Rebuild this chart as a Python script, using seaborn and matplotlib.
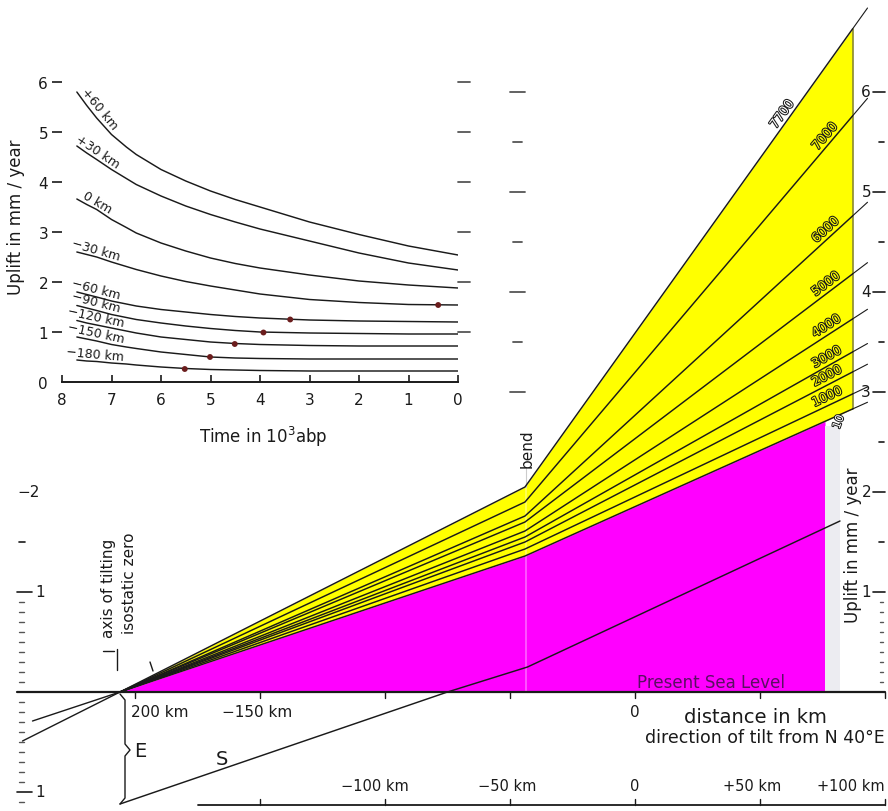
import numpy as np
import pandas as pd
import matplotlib
matplotlib.use("Agg")
import matplotlib.pyplot as plt
import matplotlib.patheffects as pe
import seaborn as sns

sns.set_theme(style="white")
plt.rcParams["font.family"] = ["DejaVu Sans"]

# ---------------- inset: uplift rate through time ----------------
inset_times = [7.7, 7.5, 7.3, 7.0, 6.7, 6.5, 6.0, 5.5, 5.0, 4.5, 4.0, 3.0, 2.0, 1.0, 0.0]
inset_labels = ["+60 km", "+30 km", "0 km", "\u221230 km", "\u221260 km",
                "\u221290 km", "\u2212120 km", "\u2212150 km", "\u2212180 km"]
rate_p60 = [5.80, 5.53, 5.28, 4.95, 4.70, 4.55, 4.25, 4.02, 3.82, 3.65, 3.50, 3.20, 2.95, 2.72, 2.54]
rate_p30 = [4.72, 4.58, 4.45, 4.25, 4.07, 3.95, 3.72, 3.52, 3.35, 3.20, 3.06, 2.82, 2.58, 2.38, 2.24]
rate_0 = [3.66, 3.55, 3.45, 3.25, 3.09, 2.98, 2.78, 2.62, 2.48, 2.37, 2.28, 2.14, 2.02, 1.94, 1.88]
rate_m30 = [2.60, 2.55, 2.50, 2.40, 2.31, 2.25, 2.12, 2.01, 1.92, 1.84, 1.76, 1.65, 1.59, 1.55, 1.54]
rate_m60 = [1.80, 1.75, 1.70, 1.62, 1.56, 1.52, 1.45, 1.40, 1.35, 1.31, 1.28, 1.24, 1.22, 1.21, 1.20]
rate_m90 = [1.53, 1.48, 1.43, 1.35, 1.29, 1.25, 1.18, 1.12, 1.07, 1.03, 1.00, 0.98, 0.97, 0.96, 0.96]
rate_m120 = [1.23, 1.18, 1.14, 1.08, 1.02, 0.98, 0.90, 0.85, 0.80, 0.77, 0.75, 0.73, 0.72, 0.72, 0.72]
rate_m150 = [0.90, 0.86, 0.82, 0.75, 0.70, 0.67, 0.60, 0.55, 0.50, 0.48, 0.47, 0.46, 0.46, 0.46, 0.46]
rate_m180 = [0.44, 0.42, 0.41, 0.38, 0.36, 0.34, 0.30, 0.27, 0.25, 0.24, 0.23, 0.22, 0.22, 0.22, 0.22]
inset_rates = [rate_p60, rate_p30, rate_0, rate_m30, rate_m60,
               rate_m90, rate_m120, rate_m150, rate_m180]
dot_times = [0.40, 3.39, 3.93, 4.51, 5.01, 5.52]
dot_rates = [1.54, 1.25, 0.99, 0.76, 0.50, 0.26]

# ---------------- main profile: tilted shorelines ----------------
pivot_km = -206
bend_km = -44
edge_km = 87
pink_edge_km = 76
leader_km = 93
fan_labels = ["7700", "7000", "6000", "5000", "4000", "3000", "2000", "1000", "10"]
fan_at_bend = [2.05, 1.90, 1.76, 1.70, 1.61, 1.55, 1.50, 1.43, 1.36]
fan_at_edge = [6.63, 5.76, 4.76, 4.18, 3.73, 3.40, 3.20, 2.98, 2.83]
s_line_km = [-206, -75, -43, 82]
s_line_rate = [-1.12, 0.0, 0.25, 1.71]
left_ext_km = [-241, -245]
left_ext_rate = [-0.29, -0.49]
top_ticks_km = [-200, -150, -100, -50, 0, 50, 100]
bottom_ticks_km = [-150, -100, -50, 0, 50, 100]
right_major = [1, 2, 3, 4, 5, 6]
right_minor = [1.5, 2.5, 3.5, 4.5, 5.5]
ruler_vals = [3.0, 3.5, 4.0, 4.5, 5.0, 5.5, 6.0]

YELLOW = "#ffff00"
MAGENTA = "#ff00ff"
INK = "#1a1a1a"

fig = plt.figure(figsize=(8.88, 8.12), dpi=100)
fig.patch.set_facecolor("white")
ax = fig.add_axes([0, 0, 1, 1])

# coloured bands
fan_x = [pivot_km, bend_km, edge_km]
ax.fill_between(fan_x, [0, fan_at_bend[-1], fan_at_edge[-1]],
                [0, fan_at_bend[0], fan_at_edge[0]], color=YELLOW, lw=0, zorder=1)
pink_top_edge = np.interp(pink_edge_km, [bend_km, edge_km], [fan_at_bend[-1], fan_at_edge[-1]])
ax.fill_between([pivot_km, bend_km, pink_edge_km], 0,
                [0, fan_at_bend[-1], pink_top_edge], color=MAGENTA, lw=0, zorder=1)
ax.fill_between([pink_edge_km, 82], 0, pink_top_edge - 0.05, color="#ececf1", lw=0, zorder=1)
ax.plot([edge_km, edge_km], [fan_at_edge[-1], fan_at_edge[0]], color="#8a8a30", lw=1.2, zorder=2)

# faint vertical at the bend
ax.plot([bend_km + 0.5, bend_km + 0.5], [0, fan_at_bend[0]], color="white", alpha=0.35, lw=1.3, zorder=2)
ax.plot([bend_km + 0.5, bend_km + 0.5], [fan_at_bend[0], 2.25], color="#cccccc", lw=0.8, zorder=2)

# shoreline lines
rows = []
for lab, vb, ve in zip(fan_labels, fan_at_bend, fan_at_edge):
    rows += [(lab, pivot_km, 0.0), (lab, bend_km, vb), (lab, edge_km, ve)]
fan_df = pd.DataFrame(rows, columns=["line", "km", "rate"])
sns.lineplot(data=fan_df, x="km", y="rate", units="line", estimator=None,
             color=INK, lw=1.05, ax=ax, sort=False, legend=False, zorder=3)
for vb, ve in zip(fan_at_bend, fan_at_edge):
    slope = (ve - vb) / (edge_km - bend_km)
    ax.plot([edge_km, leader_km], [ve, ve + slope * (leader_km - edge_km)],
            color=INK, lw=0.8, zorder=3)

# extensions beyond the tilting axis
for xk, yr in zip(left_ext_km, left_ext_rate):
    ax.plot([pivot_km, xk], [0, yr], color=INK, lw=1.0, zorder=3)

# line S
sns.lineplot(x=s_line_km, y=s_line_rate, color=INK, lw=1.05, ax=ax, sort=False, zorder=4)

# present sea level and distance scales
ax.plot([-247.2, 100], [0, 0], color=INK, lw=1.6, zorder=4)
for t in top_ticks_km:
    ax.plot([t, t], [0, -0.06], color=INK, lw=1.0, zorder=4)
ax.plot([-175, 100], [-1.13, -1.13], color=INK, lw=1.3, zorder=4)
for t in bottom_ticks_km:
    ax.plot([t, t], [-1.13, -1.07], color=INK, lw=1.0, zorder=4)

# brace E
brace_x = [-206, -204, -204, -202, -204, -204, -206]
brace_y = [-0.02, -0.08, -0.52, -0.58, -0.64, -1.06, -1.12]
ax.plot(brace_x, brace_y, color=INK, lw=1.0, zorder=4)

# axis-of-tilting marker
ax.plot([-212.8, -208.5], [0.41, 0.41], color=INK, lw=1.0)
ax.plot([-207.2, -207.2], [0.43, 0.22], color=INK, lw=1.0)
ax.plot([-194, -192.8], [0.30, 0.21], color=INK, lw=1.0)

# right-hand rate scale
for v in right_major:
    ax.plot([95.2, 100], [v, v], color=INK, lw=1.2)
    ax.text(94.4, v, str(v), ha="right", va="center", fontsize=11, color=INK)
for v in right_minor:
    ax.plot([97.4, 99.6], [v, v], color=INK, lw=1.2)
for v in np.arange(1, 10) / 10:
    ax.plot([97.8, 99.2], [v, v], color="#555555", lw=1.0)
ax.text(87.2, 1.48, "Uplift in mm / year", rotation=90, ha="center", va="center",
        fontsize=12, color=INK)

# left-hand rate scale
ax.text(-242.4, 2.0, "\u22122", ha="center", va="center", fontsize=11, color=INK)
ax.plot([-246.4, -244.0], [1.5, 1.5], color=INK, lw=1.2)
for v in [1.0, -1.0]:
    ax.plot([-247.2, -241.2], [v, v], color=INK, lw=1.2)
    ax.text(-240.0, v, "1", ha="left", va="center", fontsize=11, color=INK)
for v in np.arange(-11, 10) / 10:
    if v not in (0.0, 1.0, -1.0):
        ax.plot([-246.4, -244.4], [v, v], color="#555555", lw=1.0)

# ruler beside the inset
for v in ruler_vals:
    w = 3.0 if v % 1 == 0 else 1.8
    ax.plot([-47.2 - w, -47.2 + w], [v, v], color="#555555", lw=1.3)

ax.set_xlim(-254, 101.2)
ax.set_ylim(-1.19, 6.93)
ax.axis("off")


def seg_angle(axis, x0, y0, x1, y1):
    p0 = axis.transData.transform((x0, y0))
    p1 = axis.transData.transform((x1, y1))
    return np.degrees(np.arctan2(p1[1] - p0[1], p1[0] - p0[0]))


# shoreline age labels
for lab, vb, ve in zip(fan_labels, fan_at_bend, fan_at_edge):
    slope = (ve - vb) / (edge_km - bend_km)
    xk = 61 if lab == "7700" else 78.0
    yv = vb + slope * (xk - bend_km)
    ang = seg_angle(ax, bend_km, vb, edge_km, ve)
    face = "white" if lab == "7700" else YELLOW
    if lab == "10":
        ax.text(81.5, ve - 0.13, lab, rotation=70, ha="center", va="center",
                fontsize=8, color="white",
                path_effects=[pe.withStroke(linewidth=1.4, foreground=INK)], zorder=6)
        continue
    ax.text(xk, yv + 0.02, lab, rotation=ang, rotation_mode="anchor", ha="center",
            va="bottom", fontsize=9, color=face,
            path_effects=[pe.withStroke(linewidth=1.5, foreground=INK)], zorder=6)

# other annotations
txt = dict(color=INK, ha="center", va="center")
ax.text(-190, -0.20, "200 km", fontsize=11, **txt)
ax.text(-151, -0.20, "\u2212150 km", fontsize=11, **txt)
ax.text(0, -0.20, "0", fontsize=11, **txt)
ax.text(48, -0.25, "distance in km", fontsize=14, **txt)
ax.text(100, -0.45, "direction of tilt from N 40\u00b0E", fontsize=12.5, color=INK,
        ha="right", va="center")
ax.text(-104, -0.94, "\u2212100 km", fontsize=10.5, **txt)
ax.text(-51.2, -0.94, "\u221250 km", fontsize=10.5, **txt)
ax.text(0, -0.94, "0", fontsize=10.5, **txt)
ax.text(46.8, -0.94, "+50 km", fontsize=10.5, **txt)
ax.text(100, -0.94, "+100 km", fontsize=10.5, color=INK, ha="right", va="center")
ax.text(30.5, 0.10, "Present Sea Level", fontsize=12, color="#5a0f62", ha="center", va="center", zorder=6)
ax.text(-43.2, 2.44, "bend", rotation=90, fontsize=11, **txt)
ax.text(-210.4, 1.05, "axis of tilting", rotation=90, fontsize=11, **txt)
ax.text(-202.4, 1.10, "isostatic zero", rotation=90, fontsize=11, **txt)
ax.text(-198, -0.59, "E", fontsize=14, **txt)
ax.text(-165.2, -0.67, "S", fontsize=14, **txt)

# ---------------- inset axes ----------------
ax_in = fig.add_axes([62 / 888, (812 - 383) / 812, 396 / 888, 300 / 812])
ax_in.patch.set_alpha(0)
curve_rows = []
for lab, rates in zip(inset_labels, inset_rates):
    curve_rows += [(lab, t, r) for t, r in zip(inset_times, rates)]
curve_df = pd.DataFrame(curve_rows, columns=["distance", "time", "rate"])
sns.lineplot(data=curve_df, x="time", y="rate", units="distance", estimator=None,
             color=INK, lw=1.05, ax=ax_in, sort=False, legend=False)
sns.scatterplot(x=dot_times, y=dot_rates, color="#6b1d1d", s=18, edgecolor="none",
                ax=ax_in, zorder=4, legend=False)
ax_in.set_xlim(8, 0)
ax_in.set_ylim(0, 6)
for side in ["top", "right", "left"]:
    ax_in.spines[side].set_visible(False)
ax_in.spines["bottom"].set_color(INK)
ax_in.spines["bottom"].set_linewidth(1.4)
ax_in.set_xticks(range(0, 9))
ax_in.set_yticks(range(0, 7))
ax_in.tick_params(axis="x", direction="in", length=5, width=1.2, pad=7,
                  labelsize=11, colors=INK, bottom=True)
ax_in.tick_params(axis="y", direction="out", length=7, width=1.2, pad=3,
                  labelsize=11, colors=INK, left=True)
ax_in.yaxis.get_major_ticks()[0].tick1line.set_visible(False)
ax_in.set_xlabel("Time in 10$^3$abp", fontsize=12, color=INK)
ax_in.xaxis.set_label_coords(0.508, -0.14)
ax_in.set_ylabel("Uplift in mm / year", fontsize=12, color=INK)
ax_in.yaxis.set_label_coords(-0.093, 0.553)
for v in range(1, 7):
    ax_in.plot([-0.0, -0.24], [v, v], color="#555555", lw=1.3, clip_on=False)

for lab, rates in zip(inset_labels, inset_rates):
    t0, t1 = inset_times[0], inset_times[3]
    r0, r1 = rates[0], rates[3]
    ang = seg_angle(ax_in, t0, r0, t1, r1)
    ax_in.text((t0 + t1) / 2, (r0 + r1) / 2 + 0.03, lab, rotation=ang,
               rotation_mode="anchor", ha="center", va="bottom", fontsize=9, color=INK)

fig.savefig("out.png", dpi=100)
